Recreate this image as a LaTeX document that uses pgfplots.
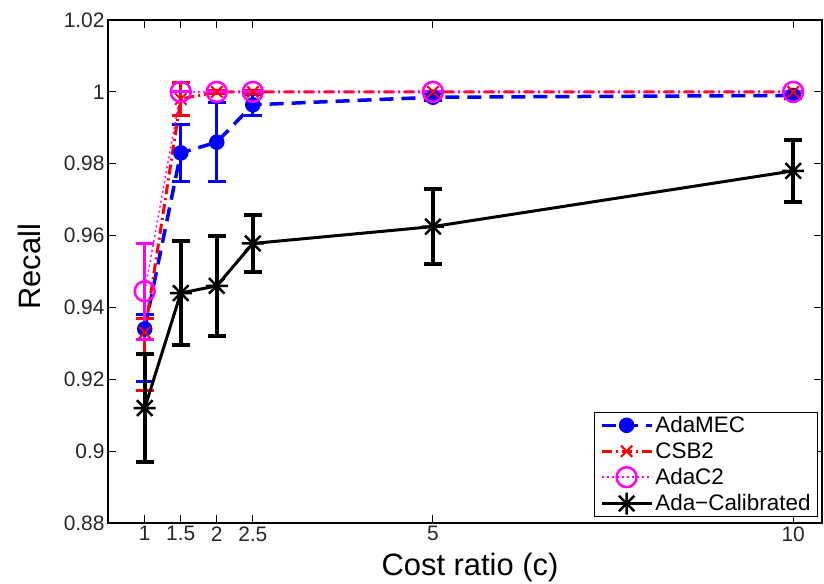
\documentclass[border=0pt]{standalone}
\usepackage{fontspec}
\setmainfont{Liberation Sans}
\usepackage{pgfplots}
\usepackage{pgfplotstable}
\pgfplotsset{compat=1.18}

\pgfdeclareplotmark{mstar}{%
  \pgfpathmoveto{\pgfqpoint{-\pgfplotmarksize}{0pt}}\pgfpathlineto{\pgfqpoint{\pgfplotmarksize}{0pt}}%
  \pgfpathmoveto{\pgfqpoint{0pt}{-\pgfplotmarksize}}\pgfpathlineto{\pgfqpoint{0pt}{\pgfplotmarksize}}%
  \pgfpathmoveto{\pgfqpoint{-0.707\pgfplotmarksize}{-0.707\pgfplotmarksize}}\pgfpathlineto{\pgfqpoint{0.707\pgfplotmarksize}{0.707\pgfplotmarksize}}%
  \pgfpathmoveto{\pgfqpoint{-0.707\pgfplotmarksize}{0.707\pgfplotmarksize}}\pgfpathlineto{\pgfqpoint{0.707\pgfplotmarksize}{-0.707\pgfplotmarksize}}%
  \pgfusepathqstroke}

\pgfplotstableread{
x y ep em
1 0.934 0.004 0.0147
1.5 0.983 0.008 0.008
2 0.986 0.011 0.011
2.5 0.9964 0.003 0.003
5 0.9985 0.001 0.001
10 0.999 0.0008 0.0008
}\adamec
\pgfplotstableread{
x y ep em
1 0.933 0.004 0.016
1.5 0.998 0.0045 0.0045
2 1.0 0.0005 0.0005
2.5 1.0 0.0005 0.0005
5 1.0 0 0
10 1.0 0 0
}\csbtwo
\pgfplotstableread{
x y e
1 0.9445 0.0133
1.5 1 0
2 1 0
2.5 1 0
5 1 0
10 1 0
}\adactwo
\pgfplotstableread{
x y e
1 0.912 0.015
1.5 0.944 0.0145
2 0.946 0.014
2.5 0.9578 0.008
5 0.9625 0.0105
10 0.978 0.0087
}\adacal

\definecolor{mblue}{rgb}{0,0,1}
\definecolor{mred}{rgb}{1,0,0}
\definecolor{mmag}{rgb}{1,0,1}

\begin{document}
\begin{tikzpicture}
\path[use as bounding box] (-108bp,-61bp) rectangle (716bp,523bp);
\begin{axis}[
  scale only axis,
  width=714bp, height=503bp,
  xmin=0.49, xmax=10.4,
  ymin=0.88, ymax=1.02,
  xtick={1,1.5,2,2.5,5,10},
  xticklabels={1,1.5,2,2.5,5,10},
  ytick={0.88,0.9,0.92,0.94,0.96,0.98,1,1.02},
  yticklabels={0.88,0.9,0.92,0.94,0.96,0.98,1,1.02},
  xtick pos=both, ytick pos=both,
  tick align=inside,
  major tick length=8bp,
  tick style={black, line width=1bp},
  axis line style={black, line width=1.3bp},
  ticklabel style={font=\fontsize{21}{25}\selectfont, text=black!85},
  /pgf/number format/assume math mode=true,
  xlabel={Cost ratio (c)},
  ylabel={Recall},
  xlabel style={font=\fontsize{31}{36}\selectfont, at={(axis description cs:0.507,-0.1034)}, anchor=base},
  ylabel style={font=\fontsize{31}{36}\selectfont, at={(axis description cs:-0.0952,0.509)}, anchor=base},
  legend style={
    at={(axis description cs:0.9944,0.0119)}, anchor=south east,
    draw=black, line width=1bp, fill=white,
    font=\fontsize{22.5}{26}\selectfont,
    inner xsep=5bp, inner ysep=2bp,
    row sep=4.5bp,
    legend cell align=left,
  },
  legend image code/.code={%
    \draw[mark repeat=2, mark phase=2, #1] plot coordinates {(0bp,0bp) (25bp,0bp) (50bp,0bp)};},
]
\addplot[mblue, line width=3.5bp, dash pattern=on 14bp off 8bp,
  mark=*, mark size=6bp, mark options={solid, fill=mblue},
  error bars/.cd, y dir=both, y explicit,
  error bar style={solid, line width=3bp},
  error mark options={solid, rotate=90, mark size=9bp, line width=3bp}]
  table[x=x, y=y, y error plus=ep, y error minus=em] {\adamec};
\addlegendentry{AdaMEC}

\addplot[mred, line width=3bp, dash pattern=on 10bp off 4bp on 2bp off 4bp,
  mark=x, mark size=8bp, mark options={solid, line width=2bp},
  error bars/.cd, y dir=both, y explicit,
  error bar style={solid, line width=3bp},
  error mark options={solid, rotate=90, mark size=9bp, line width=3bp}]
  table[x=x, y=y, y error plus=ep, y error minus=em] {\csbtwo};
\addlegendentry{CSB2}

\addplot[mmag, line width=1.5bp, dash pattern=on 2bp off 3bp,
  mark=o, mark size=10bp, mark options={solid, line width=2.5bp},
  error bars/.cd, y dir=both, y explicit,
  error bar style={solid, line width=3bp},
  error mark options={solid, rotate=90, mark size=9bp, line width=3bp}]
  table[x=x, y=y, y error=e] {\adactwo};
\addlegendentry{AdaC2}

\addplot[black, line width=3bp, solid,
  mark=mstar, mark size=11bp, mark options={solid, line width=2.5bp},
  error bars/.cd, y dir=both, y explicit,
  error bar style={solid, line width=4bp},
  error mark options={solid, rotate=90, mark size=9bp, line width=4bp}]
  table[x=x, y=y, y error=e] {\adacal};
\addlegendentry{Ada−Calibrated}
\end{axis}
\end{tikzpicture}
\end{document}
